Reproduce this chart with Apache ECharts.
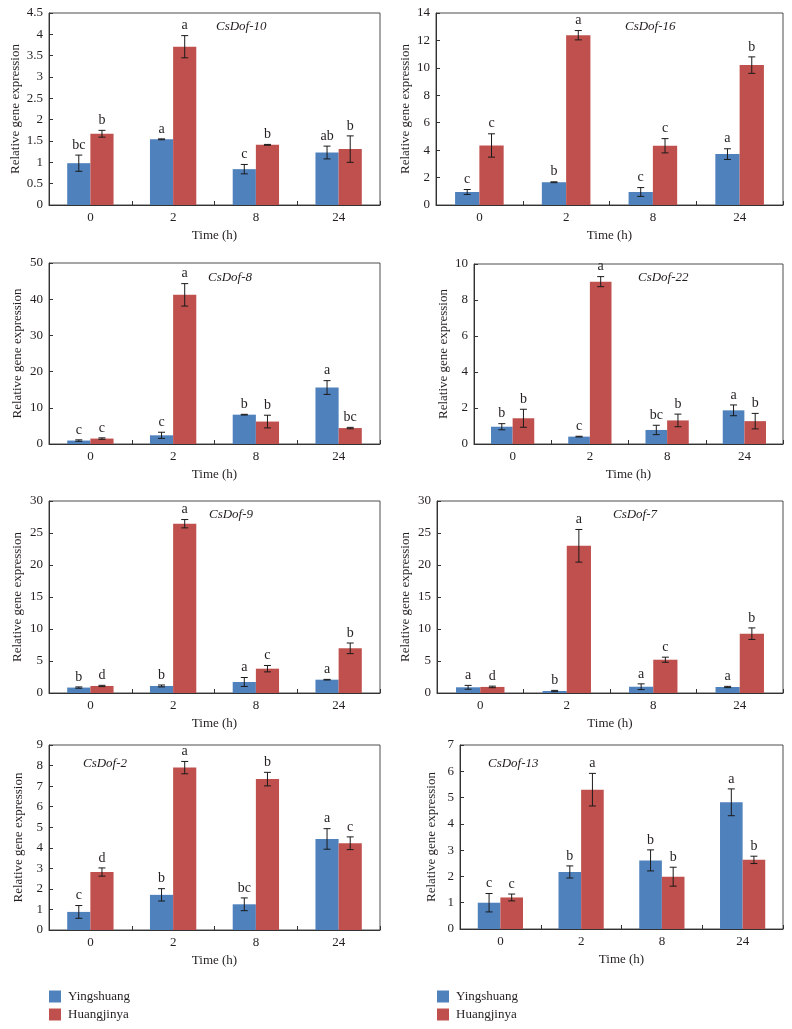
<!DOCTYPE html>
<html>
<head>
<meta charset="utf-8">
<script src="https://cdn.jsdelivr.net/npm/echarts@6/dist/echarts.min.js"></script>
<style>
html,body{margin:0;padding:0;background:#fff;}
#chart{width:792px;height:1029px;}
</style>
</head>
<body>
<div id="chart"></div>
<script>
// ---- data ----
const times = ['0', '2', '8', '24'];
const seriesNames = ['Yingshuang', 'Huangjinya'];
const geneNames = ['CsDof-10', 'CsDof-16', 'CsDof-8', 'CsDof-22', 'CsDof-9', 'CsDof-7', 'CsDof-2', 'CsDof-13'];
const yMaxes = [4.5, 14, 50, 10, 30, 30, 9, 7];
const yIntervals = [0.5, 2, 10, 2, 5, 5, 1, 1];

// CsDof-10
const ysDof10 = [0.98, 1.54, 0.84, 1.23];
const ysDof10Err = [0.19, 0.01, 0.11, 0.15];
const ysDof10Sig = ['bc', 'a', 'c', 'ab'];
const hjDof10 = [1.67, 3.71, 1.41, 1.31];
const hjDof10Err = [0.08, 0.26, 0.01, 0.31];
const hjDof10Sig = ['b', 'a', 'b', 'b'];
// CsDof-16
const ysDof16 = [0.95, 1.66, 0.95, 3.71];
const ysDof16Err = [0.18, 0.03, 0.32, 0.39];
const ysDof16Sig = ['c', 'b', 'c', 'a'];
const hjDof16 = [4.34, 12.38, 4.32, 10.2];
const hjDof16Err = [0.85, 0.34, 0.52, 0.6];
const hjDof16Sig = ['c', 'a', 'c', 'b'];
// CsDof-8
const ysDof8 = [0.95, 2.4, 8.1, 15.6];
const ysDof8Err = [0.2, 0.85, 0.1, 1.9];
const ysDof8Sig = ['c', 'c', 'b', 'a'];
const hjDof8 = [1.5, 41.2, 6.2, 4.4];
const hjDof8Err = [0.2, 3.1, 1.75, 0.2];
const hjDof8Sig = ['c', 'a', 'b', 'bc'];
// CsDof-22
const ysDof22 = [0.96, 0.41, 0.78, 1.87];
const ysDof22Err = [0.17, 0.02, 0.26, 0.3];
const ysDof22Sig = ['b', 'c', 'bc', 'a'];
const hjDof22 = [1.43, 9.02, 1.31, 1.27];
const hjDof22Err = [0.5, 0.28, 0.35, 0.43];
const hjDof22Sig = ['b', 'a', 'b', 'b'];
// CsDof-9
const ysDof9 = [0.85, 1.1, 1.72, 2.08];
const ysDof9Err = [0.1, 0.15, 0.7, 0.05];
const ysDof9Sig = ['b', 'b', 'a', 'a'];
const hjDof9 = [1.1, 26.45, 3.8, 6.98];
const hjDof9Err = [0.1, 0.65, 0.5, 0.83];
const hjDof9Sig = ['d', 'a', 'c', 'b'];
// CsDof-7
const ysDof7 = [0.89, 0.31, 0.98, 0.94];
const ysDof7Err = [0.3, 0.1, 0.45, 0.1];
const ysDof7Sig = ['a', 'b', 'a', 'a'];
const hjDof7 = [0.95, 23.0, 5.2, 9.27];
const hjDof7Err = [0.12, 2.55, 0.4, 0.9];
const hjDof7Sig = ['d', 'a', 'c', 'b'];
// CsDof-2
const ysDof2 = [0.88, 1.71, 1.25, 4.43];
const ysDof2Err = [0.31, 0.3, 0.31, 0.5];
const ysDof2Sig = ['c', 'b', 'bc', 'a'];
const hjDof2 = [2.82, 7.9, 7.34, 4.22];
const hjDof2Err = [0.2, 0.3, 0.33, 0.31];
const hjDof2Sig = ['d', 'a', 'b', 'c'];
// CsDof-13
const ysDof13 = [1.0, 2.17, 2.61, 4.82];
const ysDof13Err = [0.35, 0.23, 0.4, 0.51];
const ysDof13Sig = ['c', 'b', 'b', 'a'];
const hjDof13 = [1.2, 5.3, 1.99, 2.63];
const hjDof13Err = [0.13, 0.62, 0.36, 0.14];
const hjDof13Sig = ['c', 'a', 'b', 'b'];

const ysMeans = [ysDof10, ysDof16, ysDof8, ysDof22, ysDof9, ysDof7, ysDof2, ysDof13];
const ysErrs = [ysDof10Err, ysDof16Err, ysDof8Err, ysDof22Err, ysDof9Err, ysDof7Err, ysDof2Err, ysDof13Err];
const ysSigs = [ysDof10Sig, ysDof16Sig, ysDof8Sig, ysDof22Sig, ysDof9Sig, ysDof7Sig, ysDof2Sig, ysDof13Sig];
const hjMeans = [hjDof10, hjDof16, hjDof8, hjDof22, hjDof9, hjDof7, hjDof2, hjDof13];
const hjErrs = [hjDof10Err, hjDof16Err, hjDof8Err, hjDof22Err, hjDof9Err, hjDof7Err, hjDof2Err, hjDof13Err];
const hjSigs = [hjDof10Sig, hjDof16Sig, hjDof8Sig, hjDof22Sig, hjDof9Sig, hjDof7Sig, hjDof2Sig, hjDof13Sig];

// ---- layout / style ----
const FONT = '"Liberation Serif", "DejaVu Serif", serif';
const TXT = '#231f20';
const BLUE = '#4F81BD';
const RED = '#C0504D';
const CAT_GAP = 0.44;

const grids = [
  {left: 49, top: 13, width: 331, height: 192},
  {left: 436, top: 13, width: 347, height: 192},
  {left: 49, top: 263, width: 331, height: 181},
  {left: 474, top: 264, width: 309, height: 180},
  {left: 49, top: 501, width: 331, height: 192},
  {left: 437, top: 501, width: 346, height: 192},
  {left: 49, top: 745, width: 331, height: 185},
  {left: 460, top: 745, width: 323, height: 184}
];
const titlePos = [[216, 20], [625, 20], [208, 271], [638, 271], [209, 508], [613, 508], [83, 757], [488, 757]];
const yNameGaps = [27, 24, 25, 24, 25, 25, 24, 22];

const legendText = {fontFamily: FONT, fontSize: 13, color: TXT, padding: [0, 0, 0, 2]};
const option = {
  animation: false,
  backgroundColor: '#fff',
  textStyle: {fontFamily: FONT, color: TXT},
  title: [],
  grid: [],
  xAxis: [],
  yAxis: [],
  series: [],
  legend: [
    {left: 49, top: 990, orient: 'vertical', itemWidth: 12, itemHeight: 12, itemGap: 5,
     icon: 'rect', data: seriesNames, textStyle: legendText, padding: 0},
    {left: 437, top: 990, orient: 'vertical', itemWidth: 12, itemHeight: 12, itemGap: 5,
     icon: 'rect', data: seriesNames, textStyle: legendText, padding: 0}
  ]
};

function errorRender(means, errs, sigs, side) {
  return function (params, api) {
    const i = params.dataIndex;
    const cat = api.value(0);
    const m = means[i], e = errs[i];
    const base = api.coord([cat, m]);
    const band = api.size([1, 0])[0];
    const bw = band * (1 - CAT_GAP) / 2;
    const cx = base[0] + side * bw / 2;
    const hi = api.coord([cat, m + e])[1];
    const lo = api.coord([cat, m - e])[1];
    const st = {stroke: '#1a1a1a', lineWidth: 1};
    const cap = 3.5;
    return {
      type: 'group',
      children: [
        {type: 'line', shape: {x1: cx, y1: hi, x2: cx, y2: lo}, style: st},
        {type: 'line', shape: {x1: cx - cap, y1: hi, x2: cx + cap, y2: hi}, style: st},
        {type: 'line', shape: {x1: cx - cap, y1: lo, x2: cx + cap, y2: lo}, style: st},
        {type: 'text', x: cx, y: hi - 3,
         style: {text: sigs[i], fill: TXT, font: '14px ' + FONT, textAlign: 'center', textVerticalAlign: 'bottom'}}
      ]
    };
  };
}

for (let g = 0; g < 8; g++) {
  option.grid.push(Object.assign({show: true, borderColor: '#4d4d4d', borderWidth: 1, backgroundColor: 'transparent'}, grids[g]));
  option.title.push({
    text: geneNames[g], left: titlePos[g][0], top: titlePos[g][1], padding: 0,
    textStyle: {fontFamily: FONT, fontStyle: 'italic', fontWeight: 'normal', fontSize: 13, color: TXT}
  });
  option.xAxis.push({
    type: 'category', gridIndex: g, data: times,
    name: 'Time (h)', nameLocation: 'middle', nameGap: 24,
    nameTextStyle: {fontFamily: FONT, fontSize: 13, color: TXT},
    axisLine: {lineStyle: {color: '#333', width: 1}},
    axisTick: {show: true, inside: true, length: 4, lineStyle: {color: '#333'}},
    axisLabel: {fontFamily: FONT, fontSize: 13, color: TXT, margin: 6},
    splitLine: {show: false}
  });
  option.yAxis.push({
    type: 'value', gridIndex: g, min: 0, max: yMaxes[g], interval: yIntervals[g],
    name: 'Relative gene expression', nameLocation: 'middle', nameGap: yNameGaps[g],
    nameTextStyle: {fontFamily: FONT, fontSize: 13, color: TXT},
    axisLine: {show: true, lineStyle: {color: '#333', width: 1}},
    axisTick: {show: true, inside: true, length: 4, lineStyle: {color: '#333'}},
    axisLabel: {fontFamily: FONT, fontSize: 13, color: TXT, margin: 6},
    splitLine: {show: false}
  });
  option.series.push({
    name: seriesNames[0], type: 'bar', xAxisIndex: g, yAxisIndex: g,
    data: ysMeans[g], itemStyle: {color: BLUE}, barGap: '0%', barCategoryGap: (CAT_GAP * 100) + '%'
  });
  option.series.push({
    name: seriesNames[1], type: 'bar', xAxisIndex: g, yAxisIndex: g,
    data: hjMeans[g], itemStyle: {color: RED}, barGap: '0%', barCategoryGap: (CAT_GAP * 100) + '%'
  });
  option.series.push({
    type: 'custom', xAxisIndex: g, yAxisIndex: g, z: 5,
    data: ysMeans[g].map((v, i) => [i, v]),
    renderItem: errorRender(ysMeans[g], ysErrs[g], ysSigs[g], -1)
  });
  option.series.push({
    type: 'custom', xAxisIndex: g, yAxisIndex: g, z: 5,
    data: hjMeans[g].map((v, i) => [i, v]),
    renderItem: errorRender(hjMeans[g], hjErrs[g], hjSigs[g], 1)
  });
}

const chart = echarts.init(document.getElementById('chart'), null, {renderer: 'canvas'});
chart.setOption(option);
</script>
</body>
</html>
